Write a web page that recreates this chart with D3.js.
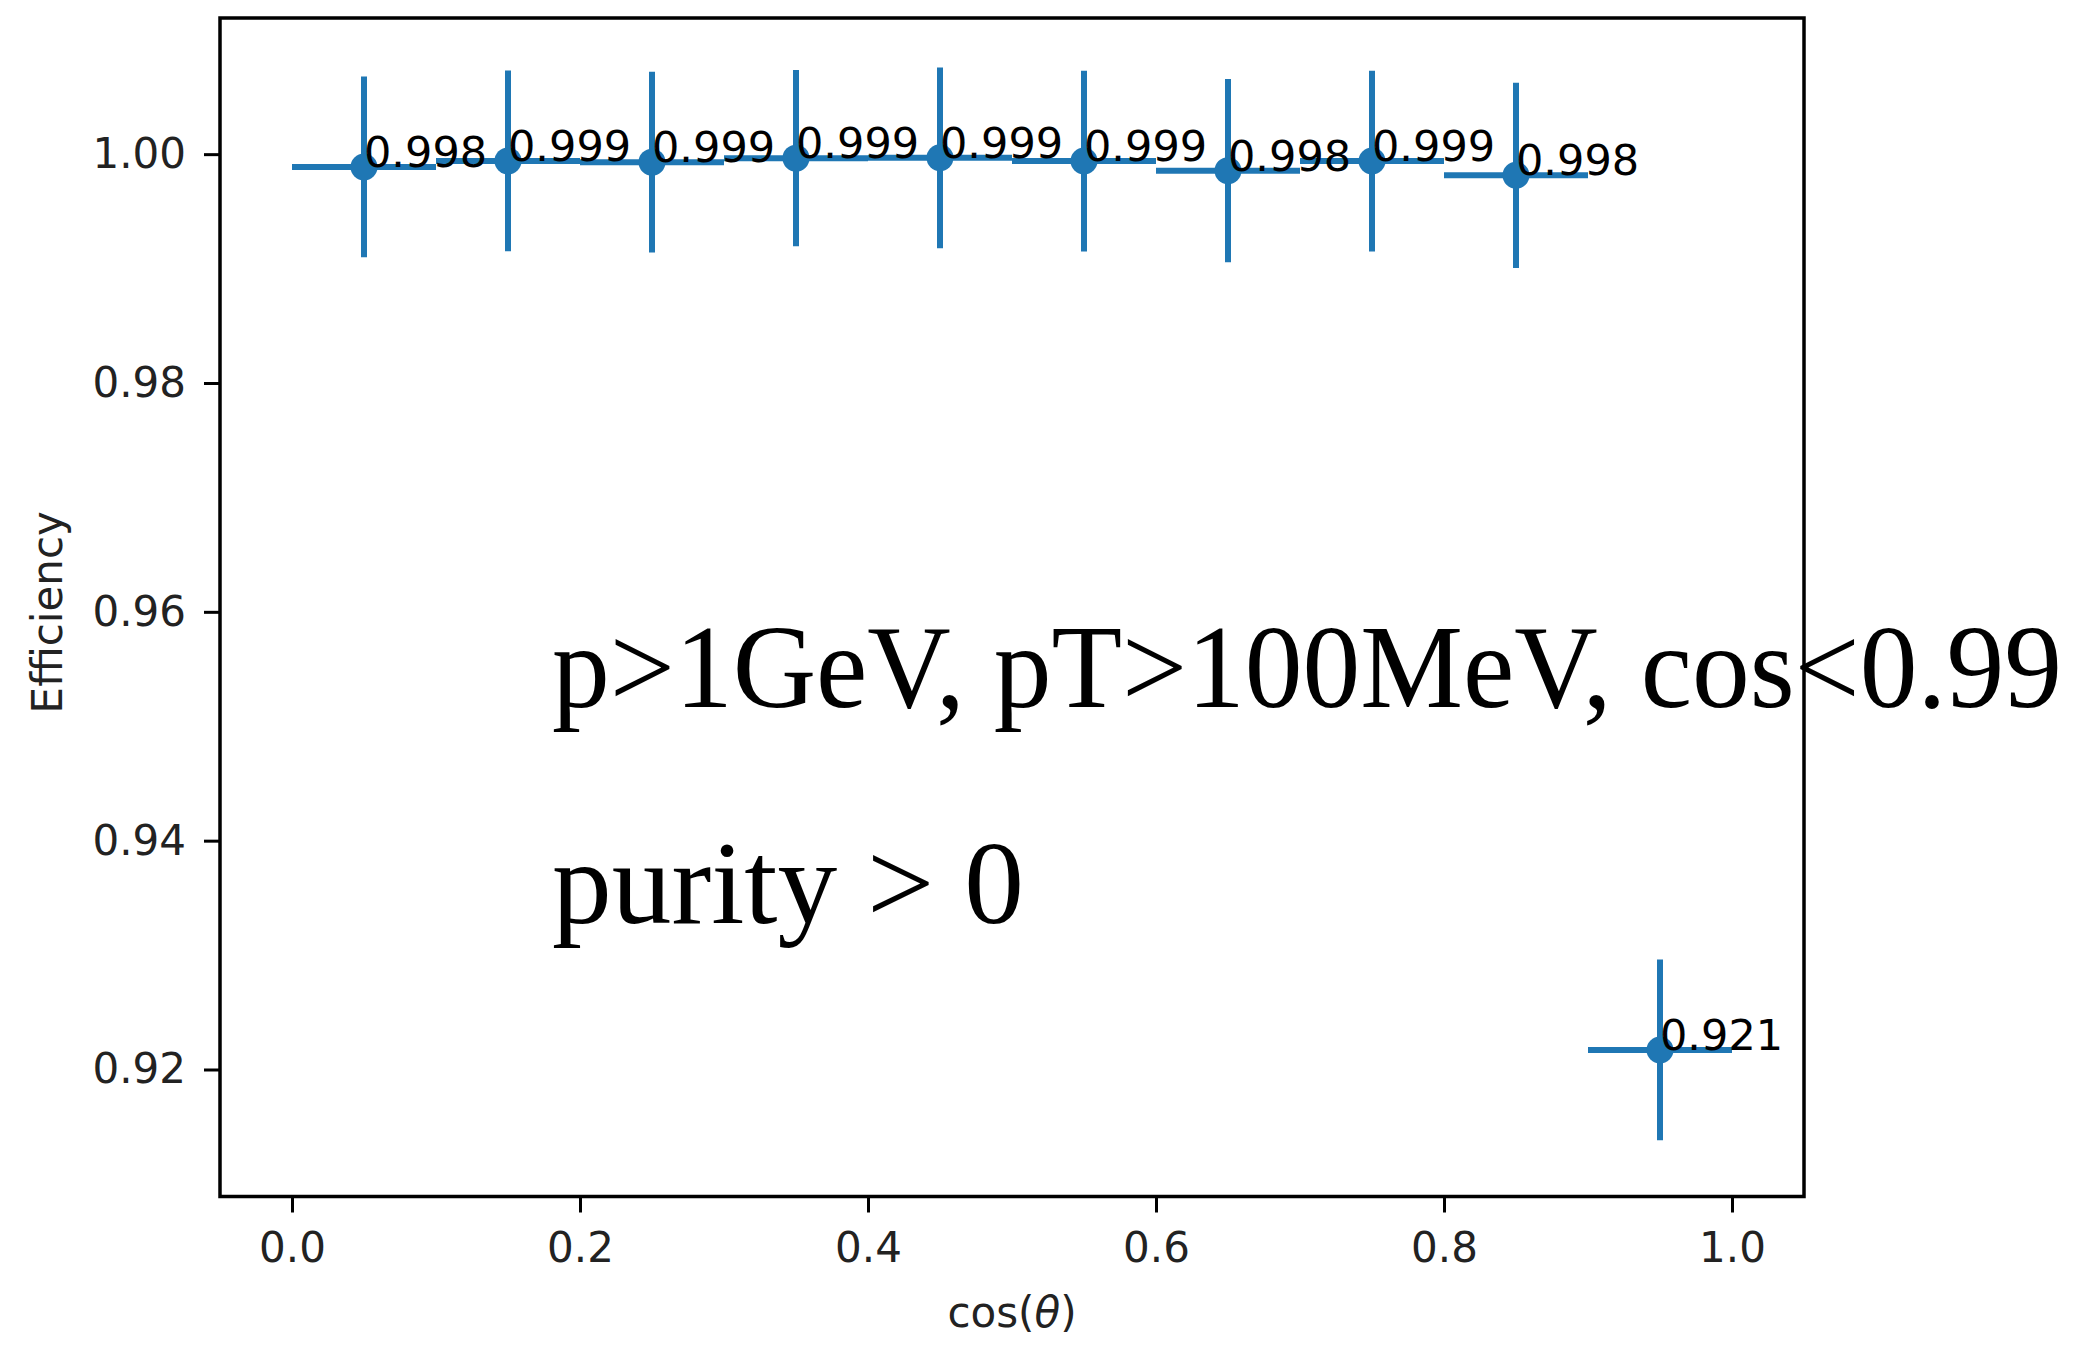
<!DOCTYPE html>
<html>
<head>
<meta charset="utf-8">
<script src="https://cdn.jsdelivr.net/npm/d3@7"></script>
<style>
  html, body { margin: 0; padding: 0; background: #ffffff; }
  svg { display: block; }
</style>
</head>
<body>
<svg id="chart" width="2091" height="1346"></svg>
<script>
// ---- data ----
const binCenters = [0.05, 0.15, 0.25, 0.35, 0.45, 0.55, 0.65, 0.75, 0.85, 0.95];
const binHalfWidths = [0.05, 0.05, 0.05, 0.05, 0.05, 0.05, 0.05, 0.05, 0.05, 0.05];
const efficiency = [0.99888, 0.99941, 0.99930, 0.99965, 0.99968, 0.99940, 0.99856, 0.99940, 0.99815, 0.92171];
const efficiencyErr = [0.0079, 0.0079, 0.0079, 0.0077, 0.0079, 0.0079, 0.0080, 0.0079, 0.0081, 0.0079];
const pointLabels = ["0.998", "0.999", "0.999", "0.999", "0.999", "0.999", "0.998", "0.999", "0.998", "0.921"];
const xTicks = [0.0, 0.2, 0.4, 0.6, 0.8, 1.0];
const xTickLabels = ["0.0", "0.2", "0.4", "0.6", "0.8", "1.0"];
const yTicks = [0.92, 0.94, 0.96, 0.98, 1.00];
const yTickLabels = ["0.92", "0.94", "0.96", "0.98", "1.00"];
const xLimits = [-0.05, 1.05];
const yLimits = [0.9089, 1.0119];
const annotationLines = ["p>1GeV, pT>100MeV, cos<0.99", "purity > 0"];
const xLabelParts = ["cos(", "\u03B8", ")"];
const yLabel = "Efficiency";

// ---- layout ----
const plot = { left: 220, right: 1804, top: 18, bottom: 1196.5 };
const blue = "#1f77b4";
const sans = "'DejaVu Sans', sans-serif";

const svg = d3.select("#chart");
const x = d3.scaleLinear().domain(xLimits).range([plot.left, plot.right]);
const y = d3.scaleLinear().domain(yLimits).range([plot.bottom, plot.top]);

const pts = binCenters.map((c, i) => ({
  x: c, hx: binHalfWidths[i], y: efficiency[i], e: efficiencyErr[i], label: pointLabels[i]
}));

// error bars
const g = svg.append("g");
g.selectAll("line.xerr").data(pts).enter().append("line")
  .attr("x1", d => x(d.x - d.hx)).attr("x2", d => x(d.x + d.hx))
  .attr("y1", d => y(d.y)).attr("y2", d => y(d.y))
  .attr("stroke", blue).attr("stroke-width", 6);
g.selectAll("line.yerr").data(pts).enter().append("line")
  .attr("x1", d => x(d.x)).attr("x2", d => x(d.x))
  .attr("y1", d => y(d.y - d.e)).attr("y2", d => y(d.y + d.e))
  .attr("stroke", blue).attr("stroke-width", 6);
g.selectAll("circle").data(pts).enter().append("circle")
  .attr("cx", d => x(d.x)).attr("cy", d => y(d.y)).attr("r", 13.5)
  .attr("fill", blue);

// point labels
g.selectAll("text.lbl").data(pts).enter().append("text")
  .attr("x", d => x(d.x)).attr("y", d => y(d.y))
  .attr("font-family", sans).attr("font-size", 43).attr("fill", "#000")
  .text(d => d.label);

// axes
const xAxis = d3.axisBottom(x).tickValues(xTicks)
  .tickFormat((d, i) => xTickLabels[i]).tickSize(16).tickPadding(20);
const yAxis = d3.axisLeft(y).tickValues(yTicks)
  .tickFormat((d, i) => yTickLabels[i]).tickSize(16).tickPadding(18);

const gx = svg.append("g").attr("transform", `translate(0,${plot.bottom})`).call(xAxis);
const gy = svg.append("g").attr("transform", `translate(${plot.left},0)`).call(yAxis);
[gx, gy].forEach(a => {
  a.select(".domain").remove();
  a.selectAll(".tick line").attr("stroke", "#000").attr("stroke-width", 3);
  a.selectAll(".tick text").attr("font-family", sans).attr("font-size", 42).attr("fill", "#222");
});

// frame
svg.append("rect")
  .attr("x", plot.left).attr("y", plot.top)
  .attr("width", plot.right - plot.left).attr("height", plot.bottom - plot.top)
  .attr("fill", "none").attr("stroke", "#000").attr("stroke-width", 3.5);

// axis labels
const xl = svg.append("text")
  .attr("x", (plot.left + plot.right) / 2).attr("y", 1327)
  .attr("text-anchor", "middle")
  .attr("font-family", sans).attr("font-size", 42).attr("fill", "#222");
xl.selectAll("tspan").data(xLabelParts).enter().append("tspan")
  .attr("font-style", (d, i) => i === 1 ? "italic" : "normal")
  .text(d => d);
svg.append("text")
  .attr("transform", `translate(62,${(plot.top + plot.bottom) / 2 + 5}) rotate(-90)`)
  .attr("text-anchor", "middle")
  .attr("font-family", sans).attr("font-size", 42).attr("fill", "#222")
  .text(yLabel);

// annotation (horizontally scaled to match reference widths)
const annWidths = [1510, 472];
const annBase = [707, 923];
annotationLines.forEach((t, i) => {
  const txt = svg.append("text")
    .attr("x", 0).attr("y", 0)
    .attr("font-family", "'Liberation Serif', 'Times New Roman', serif")
    .attr("font-size", 119).attr("fill", "#000")
    .text(t);
  const natural = txt.node().getComputedTextLength() || annWidths[i];
  const sx = Math.min(1.05, annWidths[i] / natural);
  txt.attr("transform", `translate(552,${annBase[i]}) scale(${sx},1)`);
});
</script>
</body>
</html>
